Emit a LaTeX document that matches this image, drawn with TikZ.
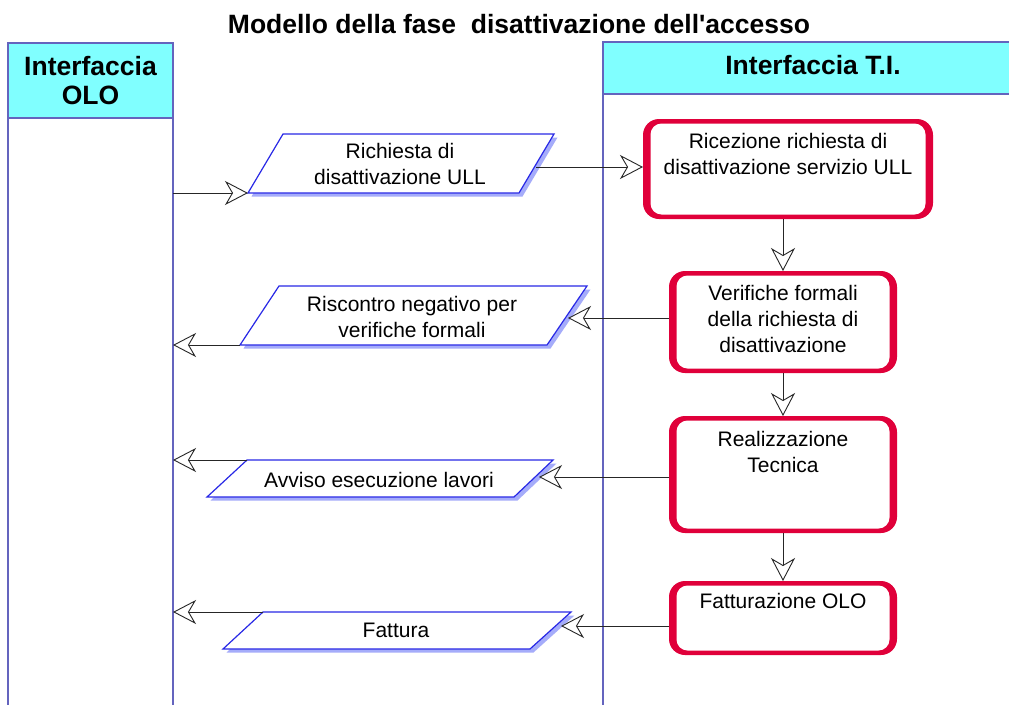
\documentclass[tikz,border=0pt]{standalone}
\usepackage{fontspec}
\setmainfont{Liberation Sans}
\usetikzlibrary{arrows.meta}
\definecolor{lane}{RGB}{100,100,190}
\definecolor{hdr}{RGB}{128,255,255}
\definecolor{redb}{RGB}{224,0,58}
\definecolor{pblue}{RGB}{40,40,230}
\definecolor{pshadow}{RGB}{165,172,250}
\begin{document}
\begin{tikzpicture}[x=1pt,y=-1pt,
  lanestyle/.style={draw=lane, line width=1.4pt},
  redbox/.style={fill=redb, rounded corners=16pt, inner sep=0pt, outer sep=0pt},
  redinner/.style={fill=white, rounded corners=11pt},
  txt/.style={font=\fontsize{21}{26}\selectfont, align=center, inner sep=0pt, anchor=north},
  hdrtxt/.style={font=\bfseries\fontsize{26.5}{29}\selectfont, align=center, inner sep=0pt, anchor=north},
  para/.style={draw=pblue, fill=white, line width=1.2pt},
  parashadow/.style={fill=pshadow, shift={(3.5,3.5)}},
  conn/.style={draw=black!85, line width=0.9pt, -{Stealth[open, length=23pt, width=24pt, inset=7pt, fill=white]}}
]
\useasboundingbox (0,0) rectangle (1009,704);
\fill[white] (0,0) rectangle (1009,704);

% title
\node[hdrtxt] (title) at (519,14) {Modello della fase\ \ disattivazione dell\textquotesingle accesso};

% left lane
\fill[hdr] (8,43) rectangle (173,118);
\draw[lanestyle] (8,710) -- (8,43) -- (173,43) -- (173,710);
\draw[lanestyle] (8,118) -- (173,118);
\node[hdrtxt] (olo) at (90.5,56) {Interfaccia\\OLO};

% right lane
\fill[hdr] (603,42) rectangle (1015,94);
\draw[lanestyle] (603,710) -- (603,42) -- (1015,42);
\draw[lanestyle] (603,94) -- (1015,94);
\node[hdrtxt] (ti) at (813,55) {Interfaccia T.I.};

% red process boxes (thick sides, thinner top/bottom)
\node[redbox, minimum width=290pt, minimum height=100pt] (b1) at (788,169) {};
\node[redbox, minimum width=228pt, minimum height=102pt] (b2) at (783,322) {};
\node[redbox, minimum width=228pt, minimum height=117pt] (b3) at (783,474.5) {};
\node[redbox, minimum width=228pt, minimum height=74pt] (b4) at (783,618) {};
\foreach \b in {b1,b2,b3,b4}
  \fill[redinner] ([xshift=7.5pt,yshift=-4.5pt]\b.north west) rectangle ([xshift=-7.5pt,yshift=4.5pt]\b.south east);
\node[txt] (t1) at (788,133) {Ricezione richiesta di\\disattivazione servizio ULL};
\node[txt] (t2) at (783,285) {Verifiche formali\\della richiesta di\\disattivazione};
\node[txt] (t3) at (783,431) {Realizzazione\\Tecnica};
\node[txt] (t4) at (783,593) {Fatturazione OLO};

% parallelograms
\fill[parashadow] (283,134) -- (554,134) -- (519,193) -- (248,193) -- cycle;
\draw[para] (283,134) -- (554,134) -- (519,193) -- (248,193) coordinate (p1bl) -- cycle;
\node[txt] (q1) at (400,143) {Richiesta di\\disattivazione ULL};

\fill[parashadow] (279,286) -- (587,286) -- (547,345) -- (240,345) -- cycle;
\draw[para] (279,286) -- (587,286) -- (547,345) -- (240,345) coordinate (p2bl) -- cycle;
\node[txt] (q2) at (412,296) {Riscontro negativo per\\verifiche formali};

\fill[parashadow] (247,460) -- (553,460) -- (514,497) -- (207,497) -- cycle;
\draw[para] (247,460) coordinate (p3tl) -- (553,460) -- (514,497) -- (207,497) -- cycle;
\node[txt] (q3) at (379,472) {Avviso esecuzione lavori};

\fill[parashadow] (263,612) -- (571,612) -- (530,649) -- (223,649) -- cycle;
\draw[para] (263,612) coordinate (p4tl) -- (571,612) -- (530,649) -- (223,649) -- cycle;
\node[txt] (q4) at (396,623) {Fattura};

% connector end points
\coordinate (p1r) at (536,167);
\coordinate (p2r) at (568,318);
\coordinate (p3r) at (539,477);
\coordinate (p4r) at (561,626);
\coordinate (l1) at (173,193);
\coordinate (l2) at (173,345);
\coordinate (l3) at (173,460);
\coordinate (l4) at (173,612);

% connectors
\draw[conn] (l1) -- (p1bl);
\draw[conn] (p1r) -- (b1.west |- p1r);
\draw[conn] (b2.west |- p2r) -- (p2r);
\draw[conn] (p2bl) -- (l2);
\draw[conn] (b3.west |- p3r) -- (p3r);
\draw[conn] (p3tl) -- (l3);
\draw[conn] (b4.west |- p4r) -- (p4r);
\draw[conn] (p4tl) -- (l4);

\draw[conn] (b1.south -| b2.north) -- (b2.north);
\draw[conn] (b2.south) -- (b3.north);
\draw[conn] (b3.south) -- (b4.north);
\end{tikzpicture}
\end{document}
